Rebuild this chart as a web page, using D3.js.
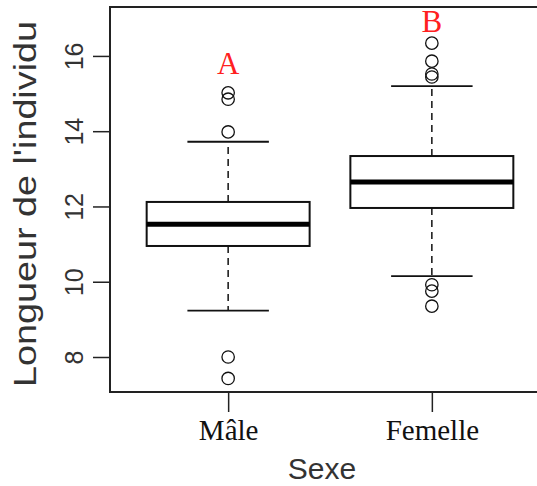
<!DOCTYPE html>
<html>
<head>
<meta charset="utf-8">
<script src="https://cdn.jsdelivr.net/npm/d3@7"></script>
<style>
  body { margin: 0; background: #fff; }
</style>
</head>
<body>
<div id="chart"></div>
<script>
const categories = ["Mâle", "Femelle"];
const lowerWhisker = [9.23, 10.15];
const q1 = [10.95, 11.96];
const medians = [11.53, 12.65];
const q3 = [12.12, 13.34];
const upperWhisker = [13.72, 15.2];
const outliersMale = [15.02, 14.85, 13.98, 8.0, 7.43];
const outliersFemale = [16.34, 15.86, 15.52, 15.44, 9.92, 9.75, 9.35];
const groupLetters = ["A", "B"];
const letterValues = [15.52, 16.64];
const yTicks = [8, 10, 12, 14, 16];

const outliers = [outliersMale, outliersFemale];

const width = 537;
const height = 486;
const plot = { left: 110, top: 7, right: 550, bottom: 392 };

const svg = d3
  .select("#chart")
  .append("svg")
  .attr("width", width)
  .attr("height", height);

// scales
const x = d3
  .scalePoint()
  .domain(categories)
  .range([plot.left, plot.right])
  .padding(0.58);

const y = d3
  .scaleLinear()
  .domain([7.07, 17.3])
  .range([plot.bottom, plot.top]);

const step = x.step();
const boxW = step * 0.8;
const capW = boxW * 0.5;

// y axis
const yAxis = svg
  .append("g")
  .attr("transform", `translate(${plot.left},0)`)
  .call(d3.axisLeft(y).tickValues(yTicks).tickSize(17).tickPadding(8));
yAxis.select(".domain").remove();
yAxis.selectAll(".tick line").attr("stroke", "#222").attr("stroke-width", 1.5);
yAxis
  .selectAll(".tick text")
  .attr("transform", "rotate(-90)")
  .attr("x", 0)
  .attr("y", -27)
  .attr("dy", 0)
  .attr("text-anchor", "middle")
  .style("font-family", "'Liberation Sans', Arial, sans-serif")
  .style("font-size", "25px")
  .attr("fill", "#333");

// x axis
const xAxis = svg
  .append("g")
  .attr("transform", `translate(0,${plot.bottom})`)
  .call(d3.axisBottom(x).tickSize(20).tickPadding(8));
xAxis.select(".domain").remove();
xAxis.selectAll(".tick line").attr("stroke", "#222").attr("stroke-width", 1.5);
xAxis
  .selectAll(".tick text")
  .attr("y", 48)
  .attr("dy", 0)
  .style("font-family", "'Liberation Serif', 'Times New Roman', serif")
  .style("font-size", "29px")
  .attr("fill", "#111");

// plot frame
svg
  .append("rect")
  .attr("x", plot.left)
  .attr("y", plot.top)
  .attr("width", plot.right - plot.left)
  .attr("height", plot.bottom - plot.top)
  .attr("fill", "none")
  .attr("stroke", "#222")
  .attr("stroke-width", 2);

// boxes
const boxes = svg
  .selectAll(".box")
  .data(categories)
  .enter()
  .append("g")
  .attr("class", "box");

// whiskers (dashed)
boxes
  .append("line")
  .attr("x1", (d) => x(d))
  .attr("x2", (d) => x(d))
  .attr("y1", (d, i) => y(q3[i]))
  .attr("y2", (d, i) => y(upperWhisker[i]))
  .attr("stroke", "#111")
  .attr("stroke-width", 1.5)
  .attr("stroke-dasharray", "7,5");

boxes
  .append("line")
  .attr("x1", (d) => x(d))
  .attr("x2", (d) => x(d))
  .attr("y1", (d, i) => y(q1[i]))
  .attr("y2", (d, i) => y(lowerWhisker[i]))
  .attr("stroke", "#111")
  .attr("stroke-width", 1.5)
  .attr("stroke-dasharray", "7,5");

// caps
[upperWhisker, lowerWhisker].forEach((w) => {
  boxes
    .append("line")
    .attr("x1", (d) => x(d) - capW / 2)
    .attr("x2", (d) => x(d) + capW / 2)
    .attr("y1", (d, i) => y(w[i]))
    .attr("y2", (d, i) => y(w[i]))
    .attr("stroke", "#111")
    .attr("stroke-width", 1.8);
});

// box
boxes
  .append("rect")
  .attr("x", (d) => x(d) - boxW / 2)
  .attr("y", (d, i) => y(q3[i]))
  .attr("width", boxW)
  .attr("height", (d, i) => y(q1[i]) - y(q3[i]))
  .attr("fill", "white")
  .attr("stroke", "#111")
  .attr("stroke-width", 2);

// median
boxes
  .append("line")
  .attr("x1", (d) => x(d) - boxW / 2)
  .attr("x2", (d) => x(d) + boxW / 2)
  .attr("y1", (d, i) => y(medians[i]))
  .attr("y2", (d, i) => y(medians[i]))
  .attr("stroke", "#000")
  .attr("stroke-width", 5);

// outliers
boxes
  .selectAll("circle")
  .data((d, i) => outliers[i].map((v) => ({ cat: d, v })))
  .enter()
  .append("circle")
  .attr("cx", (d) => x(d.cat))
  .attr("cy", (d) => y(d.v))
  .attr("r", 6.2)
  .attr("fill", "none")
  .attr("stroke", "#111")
  .attr("stroke-width", 1.3);

// group letters
svg
  .selectAll(".letter")
  .data(categories)
  .enter()
  .append("text")
  .attr("class", "letter")
  .attr("x", (d) => x(d))
  .attr("y", (d, i) => y(letterValues[i]))
  .attr("text-anchor", "middle")
  .style("font-family", "'Liberation Serif', 'Times New Roman', serif")
  .style("font-size", "31px")
  .attr("fill", "#ff2020")
  .text((d, i) => groupLetters[i]);

// axis titles
svg
  .append("text")
  .attr("x", 322)
  .attr("y", 479)
  .attr("text-anchor", "middle")
  .style("font-family", "'Liberation Sans', Arial, sans-serif")
  .style("font-size", "30px")
  .attr("fill", "#333")
  .text("Sexe");

svg
  .append("text")
  .attr("transform", "translate(36,204) rotate(-90)")
  .attr("text-anchor", "middle")
  .attr("textLength", 366)
  .attr("lengthAdjust", "spacingAndGlyphs")
  .style("font-family", "'Liberation Sans', Arial, sans-serif")
  .style("font-size", "31px")
  .attr("fill", "#333")
  .text("Longueur de l'individu");
</script>
</body>
</html>
